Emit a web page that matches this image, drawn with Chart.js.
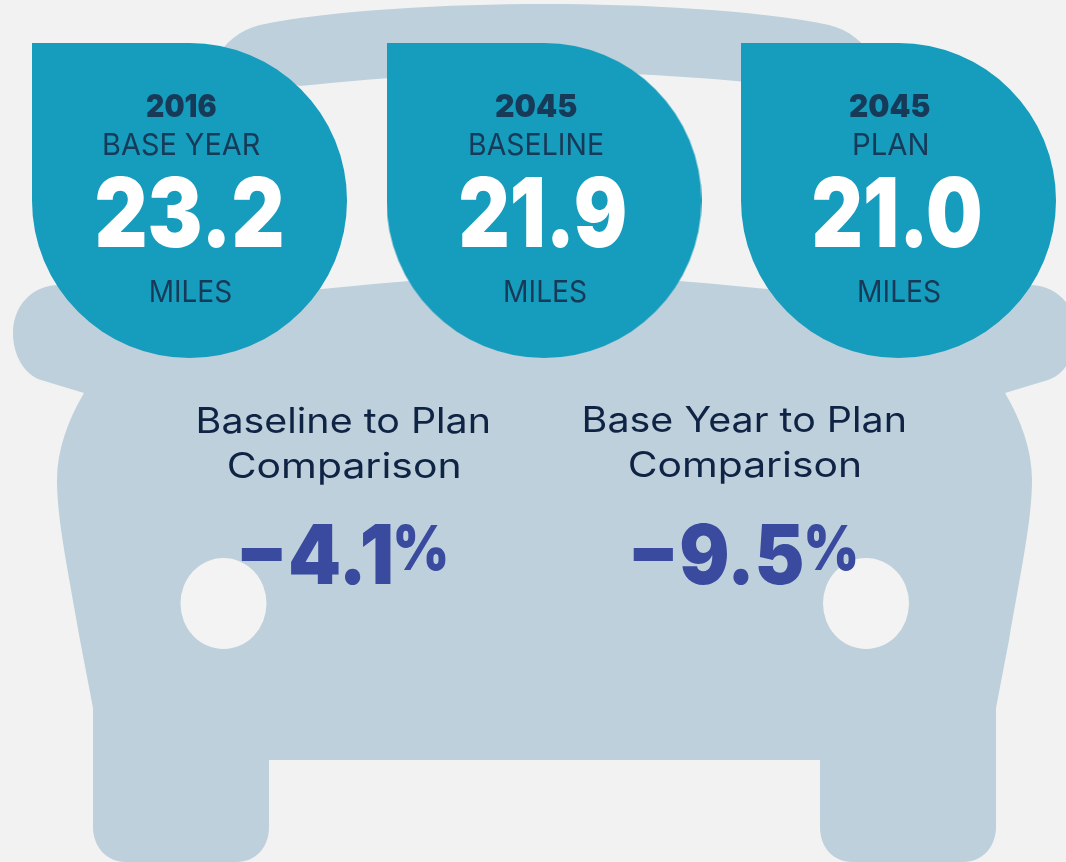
<!DOCTYPE html>
<html lang="en">
<head>
    <meta charset="UTF-8">
    <title>Average Trip Length</title>
    <script src="https://cdn.jsdelivr.net/npm/chart.js@4"></script>
    <style>
        html, body {
            margin: 0;
            padding: 0;
            background-color: #f2f2f2;
        }
        canvas {
            display: block;
        }
    </style>
</head>
<body>
    <canvas id="carChart" width="1066" height="862"></canvas>

    <script>
        // Chart values
        const years = ['2016', '2045', '2045'];
        const scenarios = ['BASE YEAR', 'BASELINE', 'PLAN'];
        const miles = [23.2, 21.9, 21.0];
        const unit = 'MILES';
        const comparisonTitles = ['Baseline to Plan', 'Base Year to Plan'];
        const comparisonWord = 'Comparison';
        const comparisonValues = [-4.1, -9.5];

        // Layout, in canvas pixels
        const FONT = 'Inter, "Open Sans", sans-serif';
        const WIDTH = 1066;
        const HEIGHT = 862;
        const DROP_R = 157.5;
        const DROP_FIRST_X = 189.5;
        const DROP_STEP = 354.5;
        const DROP_Y = 200.5;
        const yearBoxes = [[147, 216], [496, 577], [850, 930]];
        const scenarioBoxes = [[104, 260], [470, 603], [854, 927]];
        const milesBoxes = [[97, 282], [461, 625], [814, 980]];
        const unitBoxes = [[150.5, 231], [505, 586], [859, 940]];
        const titleBoxes = [[199, 488, 433], [585, 904, 432]];
        const wordBoxes = [[229, 458.5, 478], [630, 859, 477]];
        const valueBoxes = [[241, 391], [633, 802]];
        const percentBoxes = [[396, 446], [807, 856]];

        // Teardrop marker: a circle with a square top left corner
        function makeDrop() {
            const c = document.createElement('canvas');
            c.width = c.height = DROP_R * 2;
            const g = c.getContext('2d');
            g.fillStyle = '#169cbc';
            g.beginPath();
            g.arc(DROP_R, DROP_R, DROP_R, 0, Math.PI * 2);
            g.fill();
            g.fillRect(0, 0, DROP_R, DROP_R);
            return c;
        }

        // Draw text with its ink stretched between two x positions
        function fitText(ctx, text, left, right, baseline, font, color) {
            ctx.save();
            ctx.font = font;
            ctx.fillStyle = color;
            ctx.textAlign = 'left';
            ctx.textBaseline = 'alphabetic';
            const box = ctx.measureText(text);
            const ink = box.actualBoundingBoxRight + box.actualBoundingBoxLeft;
            const sx = (right - left) / ink;
            ctx.translate(left + box.actualBoundingBoxLeft * sx, baseline);
            ctx.scale(sx, 1);
            ctx.fillText(text, 0, 0);
            ctx.restore();
        }

        // Half of the car is traced, the other half is the same path mirrored
        function carPath(ctx) {
            const m = x => 1089 - x;
            ctx.beginPath();
            // roof band
            ctx.moveTo(215, 60);
            ctx.bezierCurveTo(225, 42, 240, 30, 260, 25);
            ctx.bezierCurveTo(330, 10, 450, 4, 544.5, 4);
            ctx.bezierCurveTo(639, 4, m(330), 10, m(260), 25);
            ctx.bezierCurveTo(m(240), 30, m(225), 42, m(215), 60);
            ctx.lineTo(m(300), 86);
            ctx.bezierCurveTo(m(400), 76, 620, 72, 544.5, 72);
            ctx.bezierCurveTo(470, 72, 400, 76, 300, 86);
            ctx.closePath();

            // body, starts at centre of the hood
            ctx.moveTo(544.5, 276);
            ctx.bezierCurveTo(470, 276, 400, 281, 322, 289);
            ctx.lineTo(60, 285);
            ctx.bezierCurveTo(30, 285, 13, 308, 13, 333);
            ctx.bezierCurveTo(13, 356, 25, 375, 41, 380);
            ctx.lineTo(84, 393);
            ctx.bezierCurveTo(68, 420, 57, 450, 57, 480);
            ctx.bezierCurveTo(57, 520, 68, 570, 80, 640);
            ctx.lineTo(93, 708);
            ctx.lineTo(93, 827);
            ctx.bezierCurveTo(93, 848, 108, 862, 125, 862);
            ctx.lineTo(237, 862);
            ctx.bezierCurveTo(255, 862, 269, 848, 269, 827);
            ctx.lineTo(269, 760);
            ctx.lineTo(m(269), 760);
            ctx.lineTo(m(269), 827);
            ctx.bezierCurveTo(m(269), 848, m(255), 862, m(237), 862);
            ctx.lineTo(m(125), 862);
            ctx.bezierCurveTo(m(108), 862, m(93), 848, m(93), 827);
            ctx.lineTo(m(93), 708);
            ctx.lineTo(m(80), 640);
            ctx.bezierCurveTo(m(68), 570, m(57), 520, m(57), 480);
            ctx.bezierCurveTo(m(57), 450, m(68), 420, m(84), 393);
            ctx.lineTo(m(41), 380);
            ctx.bezierCurveTo(m(25), 375, m(13), 356, m(13), 333);
            ctx.bezierCurveTo(m(13), 308, m(30), 285, m(60), 285);
            ctx.lineTo(m(322), 289);
            ctx.bezierCurveTo(m(400), 281, m(470), 276, 544.5, 276);
            ctx.closePath();
        }

        const carPlugin = {
            id: 'car',
            beforeDatasetsDraw(chart) {
                const ctx = chart.ctx;
                ctx.save();
                ctx.fillStyle = '#bdd0db';
                carPath(ctx);
                ctx.fill();
                // headlights
                ctx.fillStyle = '#f3f3f3';
                [223.5, 866].forEach(x => {
                    ctx.beginPath();
                    ctx.ellipse(x, 603.5, 43, 45.5, 0, 0, Math.PI * 2);
                    ctx.fill();
                });
                ctx.restore();
            }
        };

        const textPlugin = {
            id: 'texts',
            afterDatasetsDraw(chart) {
                const ctx = chart.ctx;
                const dark = '#173a58';
                ctx.save();
                miles.forEach((value, i) => {
                    fitText(ctx, years[i], yearBoxes[i][0], yearBoxes[i][1], 117, '900 32px ' + FONT, dark);
                    fitText(ctx, scenarios[i], scenarioBoxes[i][0], scenarioBoxes[i][1], 155, '400 30px ' + FONT, dark);
                    fitText(ctx, value.toFixed(1), milesBoxes[i][0], milesBoxes[i][1], 247, '900 96px ' + FONT, '#ffffff');
                    fitText(ctx, unit, unitBoxes[i][0], unitBoxes[i][1], 302, '400 30px ' + FONT, dark);
                });
                comparisonValues.forEach((value, i) => {
                    const t = titleBoxes[i];
                    const w = wordBoxes[i];
                    fitText(ctx, comparisonTitles[i], t[0], t[1], t[2], '400 35px ' + FONT, '#0f2344');
                    fitText(ctx, comparisonWord, w[0], w[1], w[2], '400 35px ' + FONT, '#0f2344');
                    const label = '\u2212' + Math.abs(value).toFixed(1);
                    fitText(ctx, label, valueBoxes[i][0], valueBoxes[i][1], 584, '900 82px ' + FONT, '#3a4a9f');
                    fitText(ctx, '%', percentBoxes[i][0], percentBoxes[i][1], 570, '900 62px ' + FONT, '#3a4a9f');
                });
                ctx.restore();
            }
        };

        new Chart(document.getElementById('carChart'), {
            type: 'scatter',
            data: {
                datasets: [{
                    label: 'Miles',
                    data: miles.map((value, i) => ({ x: i, y: 0 })),
                    pointStyle: makeDrop(),
                    showLine: false
                }]
            },
            options: {
                responsive: false,
                animation: false,
                layout: { padding: 0, autoPadding: false },
                plugins: {
                    legend: { display: false },
                    tooltip: { enabled: false }
                },
                scales: {
                    x: {
                        type: 'linear',
                        display: false,
                        min: -DROP_FIRST_X / DROP_STEP,
                        max: (WIDTH - DROP_FIRST_X) / DROP_STEP
                    },
                    y: {
                        type: 'linear',
                        display: false,
                        reverse: true,
                        min: -DROP_Y,
                        max: HEIGHT - DROP_Y
                    }
                }
            },
            plugins: [carPlugin, textPlugin]
        });
    </script>
</body>
</html>
